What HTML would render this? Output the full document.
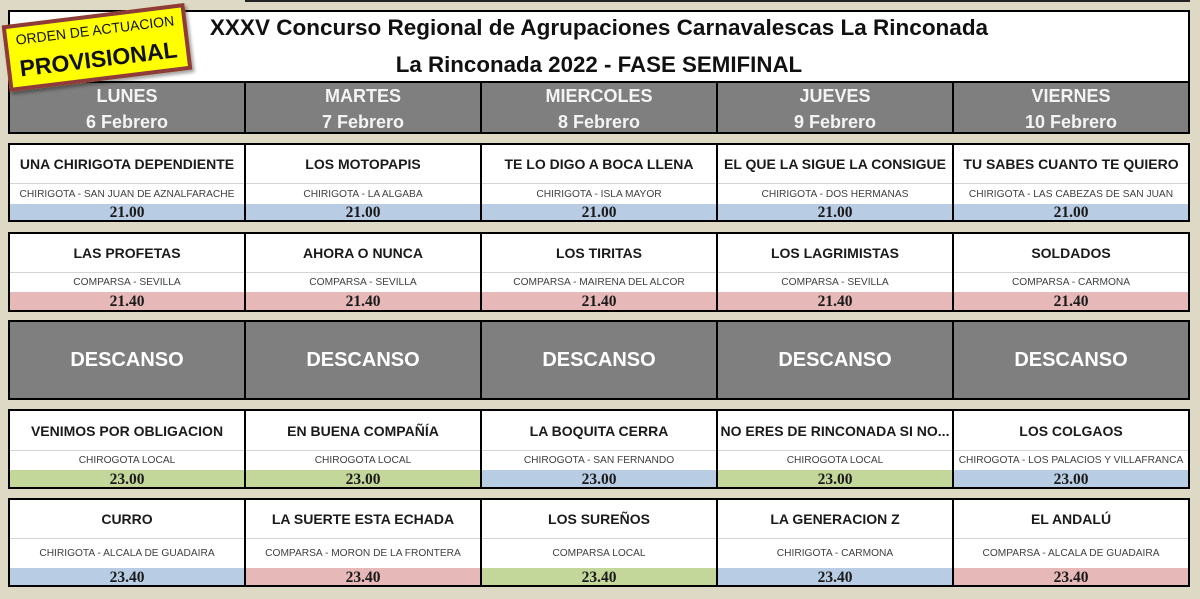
<!DOCTYPE html>
<html><head><meta charset="utf-8">
<style>
*{box-sizing:border-box}
body{margin:0;width:1200px;height:599px;background:#ddd9c4;position:relative;overflow:hidden;font-family:"Liberation Sans",sans-serif}
.topline{position:absolute;left:245px;top:0;width:945px;height:2px;background:#222}
.hdr{position:absolute;left:8px;top:10px;width:1182px;height:124px;border:2px solid #000;background:#fff}
.title{position:absolute;left:0;right:0;text-align:center;font-weight:bold;color:#111;white-space:nowrap}
.days{position:absolute;left:0;right:0;top:69px;height:51px;border-top:2px solid #000;background:#7f7f7f;display:flex}
.day{flex:1;border-left:2px solid #000;color:#f4f4f4;font-weight:bold;font-size:18px;text-align:center;line-height:26px}
.day:first-child{border-left:0}
.blk{position:absolute;left:8px;width:1182px;border:2px solid #000;display:flex}
.col{flex:1;display:flex;flex-direction:column;border-left:2px solid #000;min-width:0}
.col:first-child{border-left:0}
.nm,.sb,.tm{display:flex;align-items:center;justify-content:center;white-space:nowrap;overflow:hidden}
.nm{background:#fff;font-weight:bold;font-size:14px;color:#1a1a1a;border-bottom:1px solid #d4d4d4}
.sb{background:#fff;font-size:10.2px;color:#404040}
.tm{font-family:"Liberation Serif",serif;font-weight:bold;font-size:15.5px;color:#1a1a1a;padding-top:2px}
.b{background:#b8cce4}.p{background:#e6b8b7}.g{background:#c4d79b}
.desc{background:#7f7f7f}
.desc .col{align-items:center;justify-content:center;color:#fff;font-weight:bold;font-size:20px}
.badge{position:absolute;left:5px;top:14px;width:184px;height:67px;background:#ffff00;border:4px solid #8e3b3b;transform:rotate(-7deg);box-shadow:2px 3px 3px rgba(0,0,0,.35);text-align:center;color:#111}
.badge .l1{position:absolute;left:0;right:0;top:2px;font-size:14px;line-height:20px}
.badge .l2{position:absolute;left:0;right:0;top:27px;font-size:23px;font-weight:bold;line-height:28px}
</style></head><body>
<div class="topline"></div>
<div class="hdr">
  <div class="title" style="top:1px;line-height:29px;font-size:22.5px">XXXV Concurso Regional de Agrupaciones Carnavalescas La Rinconada</div>
  <div class="title" style="top:38px;line-height:29px;font-size:22.3px">La Rinconada 2022 - FASE SEMIFINAL</div>
  <div class="days">
    <div class="day">LUNES<br>6 Febrero</div>
    <div class="day">MARTES<br>7 Febrero</div>
    <div class="day">MIERCOLES<br>8 Febrero</div>
    <div class="day">JUEVES<br>9 Febrero</div>
    <div class="day">VIERNES<br>10 Febrero</div>
  </div>
</div>

<!-- Block 1 -->
<div class="blk" style="top:143px;height:79px">
  <div class="col"><div class="nm" style="height:39px">UNA CHIRIGOTA DEPENDIENTE</div><div class="sb" style="height:20px">CHIRIGOTA - SAN JUAN DE AZNALFARACHE</div><div class="tm b" style="height:16px">21.00</div></div>
  <div class="col"><div class="nm" style="height:39px">LOS MOTOPAPIS</div><div class="sb" style="height:20px">CHIRIGOTA - LA ALGABA</div><div class="tm b" style="height:16px">21.00</div></div>
  <div class="col"><div class="nm" style="height:39px">TE LO DIGO A BOCA LLENA</div><div class="sb" style="height:20px">CHIRIGOTA - ISLA MAYOR</div><div class="tm b" style="height:16px">21.00</div></div>
  <div class="col"><div class="nm" style="height:39px">EL QUE LA SIGUE LA CONSIGUE</div><div class="sb" style="height:20px">CHIRIGOTA - DOS HERMANAS</div><div class="tm b" style="height:16px">21.00</div></div>
  <div class="col"><div class="nm" style="height:39px">TU SABES CUANTO TE QUIERO</div><div class="sb" style="height:20px">CHIRIGOTA - LAS CABEZAS DE SAN JUAN</div><div class="tm b" style="height:16px">21.00</div></div>
</div>

<!-- Block 2 -->
<div class="blk" style="top:232px;height:80px">
  <div class="col"><div class="nm" style="height:39px">LAS PROFETAS</div><div class="sb" style="height:19px">COMPARSA - SEVILLA</div><div class="tm p" style="height:18px">21.40</div></div>
  <div class="col"><div class="nm" style="height:39px">AHORA O NUNCA</div><div class="sb" style="height:19px">COMPARSA - SEVILLA</div><div class="tm p" style="height:18px">21.40</div></div>
  <div class="col"><div class="nm" style="height:39px">LOS TIRITAS</div><div class="sb" style="height:19px">COMPARSA - MAIRENA DEL ALCOR</div><div class="tm p" style="height:18px">21.40</div></div>
  <div class="col"><div class="nm" style="height:39px">LOS LAGRIMISTAS</div><div class="sb" style="height:19px">COMPARSA - SEVILLA</div><div class="tm p" style="height:18px">21.40</div></div>
  <div class="col"><div class="nm" style="height:39px">SOLDADOS</div><div class="sb" style="height:19px">COMPARSA - CARMONA</div><div class="tm p" style="height:18px">21.40</div></div>
</div>

<!-- Descanso -->
<div class="blk desc" style="top:320px;height:80px">
  <div class="col">DESCANSO</div>
  <div class="col">DESCANSO</div>
  <div class="col">DESCANSO</div>
  <div class="col">DESCANSO</div>
  <div class="col">DESCANSO</div>
</div>

<!-- Block 4 -->
<div class="blk" style="top:409px;height:80px">
  <div class="col"><div class="nm" style="height:40px">VENIMOS POR OBLIGACION</div><div class="sb" style="height:19px">CHIROGOTA LOCAL</div><div class="tm g" style="height:17px">23.00</div></div>
  <div class="col"><div class="nm" style="height:40px">EN BUENA COMPAÑÍA</div><div class="sb" style="height:19px">CHIROGOTA LOCAL</div><div class="tm g" style="height:17px">23.00</div></div>
  <div class="col"><div class="nm" style="height:40px">LA BOQUITA CERRA</div><div class="sb" style="height:19px">CHIROGOTA - SAN FERNANDO</div><div class="tm b" style="height:17px">23.00</div></div>
  <div class="col"><div class="nm" style="height:40px">NO ERES DE RINCONADA SI NO...</div><div class="sb" style="height:19px">CHIROGOTA LOCAL</div><div class="tm g" style="height:17px">23.00</div></div>
  <div class="col"><div class="nm" style="height:40px">LOS COLGAOS</div><div class="sb" style="height:19px">CHIROGOTA - LOS PALACIOS Y VILLAFRANCA</div><div class="tm b" style="height:17px">23.00</div></div>
</div>

<!-- Block 5 -->
<div class="blk" style="top:498px;height:89px">
  <div class="col"><div class="nm" style="height:39px">CURRO</div><div class="sb" style="height:29px">CHIRIGOTA - ALCALA DE GUADAIRA</div><div class="tm b" style="height:17px">23.40</div></div>
  <div class="col"><div class="nm" style="height:39px">LA SUERTE ESTA ECHADA</div><div class="sb" style="height:29px">COMPARSA - MORON DE LA FRONTERA</div><div class="tm p" style="height:17px">23.40</div></div>
  <div class="col"><div class="nm" style="height:39px">LOS SUREÑOS</div><div class="sb" style="height:29px">COMPARSA LOCAL</div><div class="tm g" style="height:17px">23.40</div></div>
  <div class="col"><div class="nm" style="height:39px">LA GENERACION Z</div><div class="sb" style="height:29px">CHIRIGOTA - CARMONA</div><div class="tm b" style="height:17px">23.40</div></div>
  <div class="col"><div class="nm" style="height:39px">EL ANDALÚ</div><div class="sb" style="height:29px">COMPARSA - ALCALA DE GUADAIRA</div><div class="tm p" style="height:17px">23.40</div></div>
</div>

<div class="badge">
  <div class="l1">ORDEN DE ACTUACION</div>
  <div class="l2">PROVISIONAL</div>
</div>
</body></html>
